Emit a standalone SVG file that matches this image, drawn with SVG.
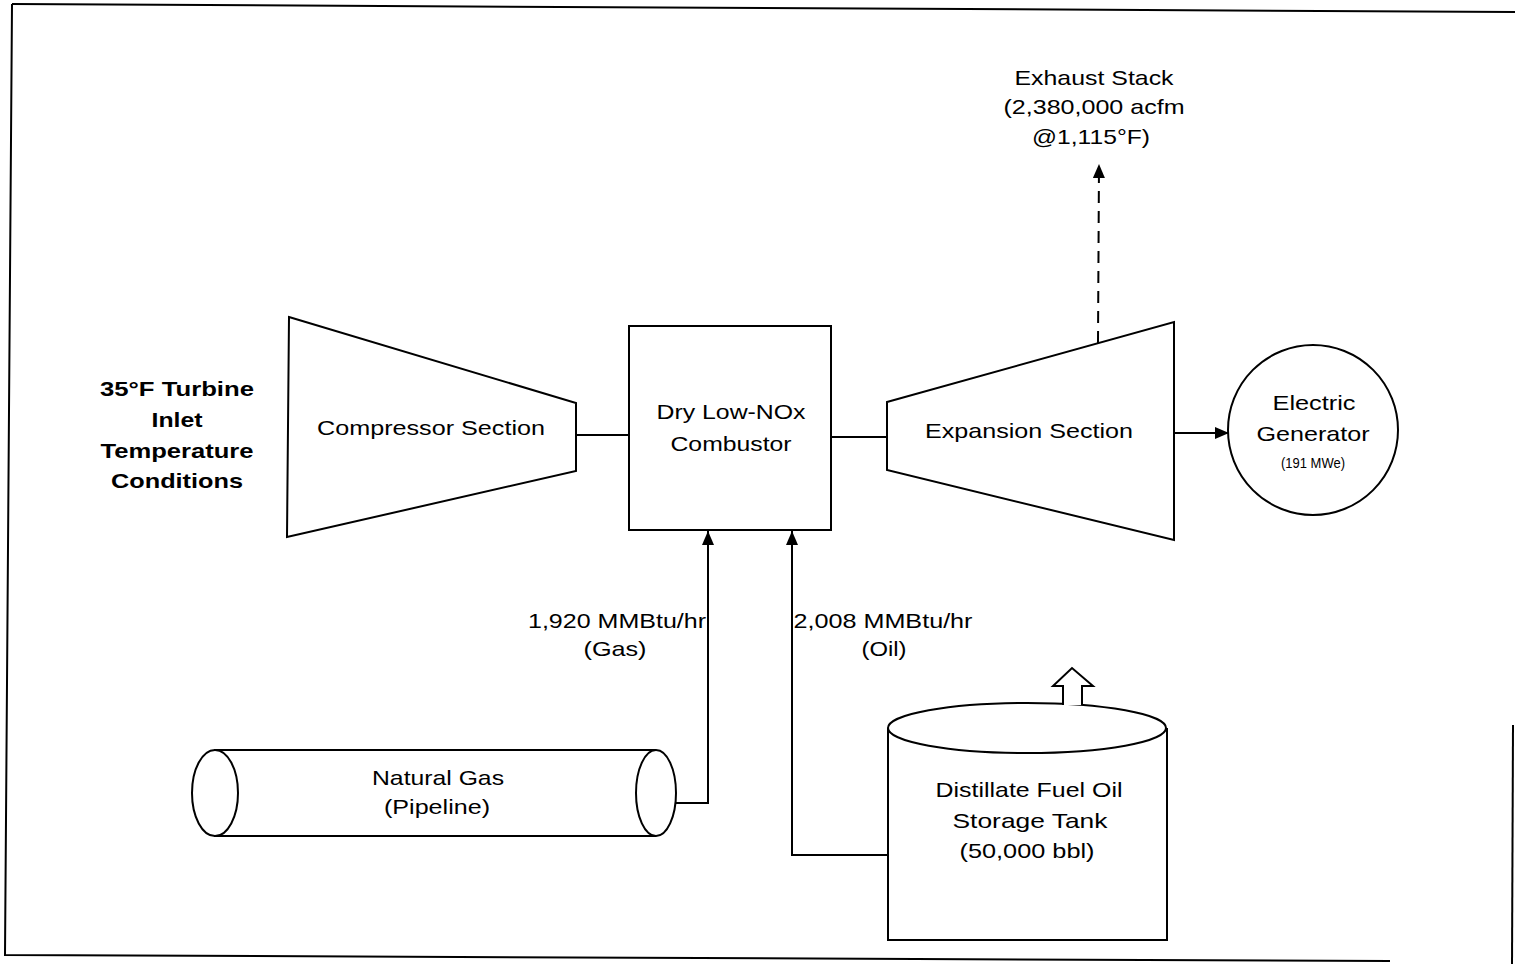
<svg xmlns="http://www.w3.org/2000/svg" width="1515" height="964" viewBox="0 0 1515 964">
<style>
.s{fill:none;stroke:#000;stroke-width:2}
.w{fill:#fff;stroke:#000;stroke-width:2}
.t{font-family:"Liberation Sans",Arial,sans-serif;font-size:21px;fill:#000;text-anchor:middle}
.b{font-weight:bold}
.sm{font-size:15px}
</style>
<defs>
<marker id="ah" markerUnits="userSpaceOnUse" markerWidth="16" markerHeight="12" refX="14" refY="6" orient="auto">
<path d="M0,0 L14,6 L0,12 Z" fill="#000"/>
</marker>
</defs>
<rect width="1515" height="964" fill="#fff"/>
<g id="border">
<path class="s" d="M12,4 L1515,12" stroke-width="2.5"/>
<path class="s" d="M12,4 L5,955 L1390,961" stroke-width="2.5"/>
<path class="s" d="M1513,725 L1512,964"/>
</g>
<g id="inlet">
<text class="t b" x="177" y="396" textLength="154" lengthAdjust="spacingAndGlyphs">35°F Turbine</text>
<text class="t b" x="177" y="427" textLength="51" lengthAdjust="spacingAndGlyphs">Inlet</text>
<text class="t b" x="177" y="458" textLength="153" lengthAdjust="spacingAndGlyphs">Temperature</text>
<text class="t b" x="177" y="488" textLength="132" lengthAdjust="spacingAndGlyphs">Conditions</text>
</g>
<g id="connectors">
<path class="s" d="M576,435 L629,435"/>
<path class="s" d="M831,437 L887,437"/>
<path class="s" d="M1174,433 L1229,433" marker-end="url(#ah)"/>
<path class="s" d="M1098,343 L1099,164" stroke-dasharray="12,8" marker-end="url(#ah)"/>
<path class="s" d="M656,803 L708,803 L708,531" marker-end="url(#ah)"/>
<path class="s" d="M888,855 L792,855 L792,531" marker-end="url(#ah)"/>
</g>
<g id="compressor">
<path class="w" d="M289,317 L576,403 L576,471 L287,537 Z"/>
<text class="t" x="431" y="435" textLength="228" lengthAdjust="spacingAndGlyphs">Compressor Section</text>
</g>
<g id="combustor">
<rect class="w" x="629" y="326" width="202" height="204"/>
<text class="t" x="731" y="419" textLength="149" lengthAdjust="spacingAndGlyphs">Dry Low-NOx</text>
<text class="t" x="731" y="451" textLength="121" lengthAdjust="spacingAndGlyphs">Combustor</text>
</g>
<g id="expansion">
<path class="w" d="M887,402 L1174,322 L1174,540 L887,470 Z"/>
<text class="t" x="1029" y="438" textLength="208" lengthAdjust="spacingAndGlyphs">Expansion Section</text>
</g>
<g id="generator">
<circle class="w" cx="1313" cy="430" r="85"/>
<text class="t" x="1314" y="410" textLength="83" lengthAdjust="spacingAndGlyphs">Electric</text>
<text class="t" x="1313" y="441" textLength="113" lengthAdjust="spacingAndGlyphs">Generator</text>
<text class="t sm" x="1313" y="468" textLength="64" lengthAdjust="spacingAndGlyphs">(191 MWe)</text>
</g>
<g id="exhaust">
<text class="t" x="1094" y="85" textLength="159" lengthAdjust="spacingAndGlyphs">Exhaust Stack</text>
<text class="t" x="1094" y="114" textLength="181" lengthAdjust="spacingAndGlyphs">(2,380,000 acfm</text>
<text class="t" x="1091" y="144" textLength="118" lengthAdjust="spacingAndGlyphs">@1,115°F)</text>
</g>
<g id="gas-label">
<text class="t" x="617" y="628" textLength="178" lengthAdjust="spacingAndGlyphs">1,920 MMBtu/hr</text>
<text class="t" x="615" y="656" textLength="63" lengthAdjust="spacingAndGlyphs">(Gas)</text>
</g>
<g id="oil-label">
<text class="t" x="883" y="628" textLength="179" lengthAdjust="spacingAndGlyphs">2,008 MMBtu/hr</text>
<text class="t" x="884" y="656" textLength="45" lengthAdjust="spacingAndGlyphs">(Oil)</text>
</g>
<g id="pipeline">
<path class="w" d="M215,750 L656,750 A20,43 0 0 1 656,836 L215,836 Z"/>
<ellipse class="w" cx="215" cy="793" rx="23" ry="43"/>
<path class="s" d="M656,750 A20,43 0 0 0 656,836"/>
<text class="t" x="438" y="785" textLength="132" lengthAdjust="spacingAndGlyphs">Natural Gas</text>
<text class="t" x="437" y="814" textLength="106" lengthAdjust="spacingAndGlyphs">(Pipeline)</text>
</g>
<g id="tank">
<path class="w" d="M888,728 L888,940 L1167,940 L1167,728"/>
<ellipse class="w" cx="1027" cy="728" rx="139" ry="25"/>
<path class="w" d="M1063,705 L1063,686 L1053,686 L1072,668 L1093,686 L1082,686 L1082,705"/>
<text class="t" x="1029" y="797" textLength="187" lengthAdjust="spacingAndGlyphs">Distillate Fuel Oil</text>
<text class="t" x="1030" y="828" textLength="155" lengthAdjust="spacingAndGlyphs">Storage Tank</text>
<text class="t" x="1027" y="858" textLength="135" lengthAdjust="spacingAndGlyphs">(50,000 bbl)</text>
</g>
</svg>
